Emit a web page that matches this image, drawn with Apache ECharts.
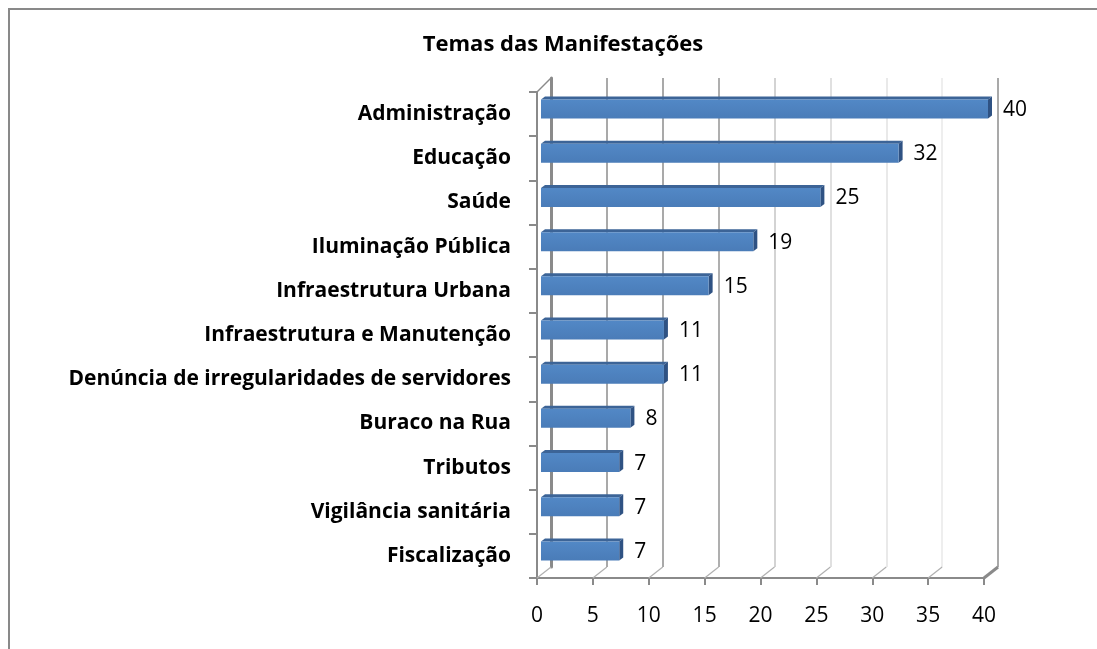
<!DOCTYPE html>
<html>
<head>
<meta charset="utf-8">
<script src="https://cdn.jsdelivr.net/npm/echarts@6/dist/echarts.min.js"></script>
<style>
  html, body { margin: 0; padding: 0; background: #fff; }
  #chart { width: 1097px; height: 649px; }
</style>
</head>
<body>
<div id="chart"></div>
<script>
// dados do gráfico
var temas = ['Administração', 'Educação', 'Saúde', 'Iluminação Pública', 'Infraestrutura Urbana',
  'Infraestrutura e Manutenção', 'Denúncia de irregularidades de servidores', 'Buraco na Rua',
  'Tributos', 'Vigilância sanitária', 'Fiscalização']
var quantidades = [40, 32, 25, 19, 15, 11, 11, 8, 7, 7, 7]
var ticks = [0, 5, 10, 15, 20, 25, 30, 35, 40]

var fonte = '"Open Sans", "Liberation Sans", sans-serif'
var cinza = '#8a8a8a'

var chart = echarts.init(document.getElementById('chart'), null, { renderer: 'canvas' })

// barra "3D": frente + topo + lateral
function barra3d(params, api) {
  var cat = api.value(1)
  var v = api.value(0)
  var ini = api.coord([0, cat])
  var fim = api.coord([v, cat])
  var h = 19, dx = 4, dy = 3
  var y0 = ini[1] - h / 2 + 1, y1 = y0 + h
  var x0 = ini[0], x1 = fim[0]
  return {
    type: 'group',
    children: [
      { type: 'polygon', shape: { points: [[x0, y0], [x0 + dx, y0 - dy], [x1 + dx, y0 - dy], [x1, y0]] },
        style: { fill: '#3c6497' } },
      { type: 'polygon', shape: { points: [[x1, y0], [x1 + dx, y0 - dy], [x1 + dx, y1 - dy], [x1, y1]] },
        style: { fill: '#2f5283' } },
      { type: 'rect', shape: { x: x0, y: y0, width: x1 - x0, height: h },
        style: { fill: new echarts.graphic.LinearGradient(0, 0, 0, 1, [
          { offset: 0, color: '#5288c6' }, { offset: 1, color: '#4a7cb8' }]) } },
      { type: 'text', style: { text: String(v), x: x1 + 15, y: ini[1] + 2, font: '21px ' + fonte,
        fill: '#000', textVerticalAlign: 'middle' } }
    ]
  }
}

var option = {
  backgroundColor: '#fff',
  animation: false,
  title: {
    text: 'Temas das Manifestações',
    left: 558, top: 29, textAlign: 'center',
    textStyle: { fontFamily: fonte, fontSize: 22, fontWeight: 'bold', color: '#000' }
  },
  grid: [
    // plano das barras
    { left: 541, top: 86, width: 447, bottom: 77 },
    // eixos da frente
    { left: 537, top: 92, width: 447, bottom: 71 },
    // parede do fundo
    { left: 551, top: 78, width: 447, bottom: 82 }
  ],
  xAxis: [
    { gridIndex: 0, type: 'value', min: 0, max: 40, interval: 5, show: false },
    { gridIndex: 1, type: 'value', min: 0, max: 40, interval: 5,
      axisLine: { show: true, lineStyle: { color: cinza, width: 2 } },
      axisTick: { show: true, length: 7, lineStyle: { color: cinza, width: 2 } },
      axisLabel: { margin: 28, color: '#000', fontSize: 21, fontFamily: fonte },
      splitLine: { show: false } },
    { gridIndex: 2, type: 'value', min: 0, max: 40, interval: 5,
      axisLine: { show: false }, axisTick: { show: false }, axisLabel: { show: false },
      splitLine: { show: true, lineStyle: { width: 1.5,
        color: ['#8c8c8c', '#8c8c8c', '#8c8c8c', '#949494', '#c4c4c4', '#d6d6d6', '#e2e2e2', '#e8e8e8', '#8c8c8c'] } } }
  ],
  yAxis: [
    { gridIndex: 0, type: 'category', data: temas, inverse: true, show: false },
    { gridIndex: 1, type: 'category', data: temas, inverse: true,
      axisLine: { show: true, lineStyle: { color: cinza, width: 2 } },
      axisTick: { show: true, length: 8, lineStyle: { color: cinza, width: 2 } },
      axisLabel: { margin: 26, color: '#000', fontSize: 21, fontWeight: 'bold', fontFamily: fonte } },
    { gridIndex: 2, type: 'value', position: 'right', min: 0, max: 1,
      axisLine: { show: true, lineStyle: { color: cinza, width: 3 } },
      axisTick: { show: false }, axisLabel: { show: false }, splitLine: { show: false } }
  ],
  series: [
    {
      type: 'custom',
      xAxisIndex: 0, yAxisIndex: 0,
      renderItem: barra3d,
      encode: { x: 0, y: 1 },
      data: quantidades.map(function (q, i) { return [q, i] }),
      z: 5
    }
  ]
}
chart.setOption(option)

// linhas diagonais do piso e bordas
var diag = []
ticks.forEach(function (t, i) {
  var f = chart.convertToPixel({ xAxisIndex: 1 }, t)
  var b = chart.convertToPixel({ xAxisIndex: 2 }, t)
  var ultimo = i === ticks.length - 1
  diag.push({ type: 'line', shape: { x1: f, y1: 578, x2: b, y2: 567 },
    style: { stroke: ultimo ? cinza : '#b0b0b0', lineWidth: ultimo ? 3 : 1.2 }, z: 1 })
})
var f0 = chart.convertToPixel({ xAxisIndex: 1 }, 0)
var b0 = chart.convertToPixel({ xAxisIndex: 2 }, 0)
diag.push({ type: 'line', shape: { x1: f0, y1: 92, x2: b0, y2: 78 },
  style: { stroke: cinza, lineWidth: 1.5 }, z: 1 })
// moldura
diag.push({ type: 'rect', shape: { x: 9, y: 9, width: 1200, height: 800 },
  style: { fill: 'none', stroke: '#898989', lineWidth: 2 }, z: 0 })
chart.setOption({ graphic: diag })
</script>
</body>
</html>
